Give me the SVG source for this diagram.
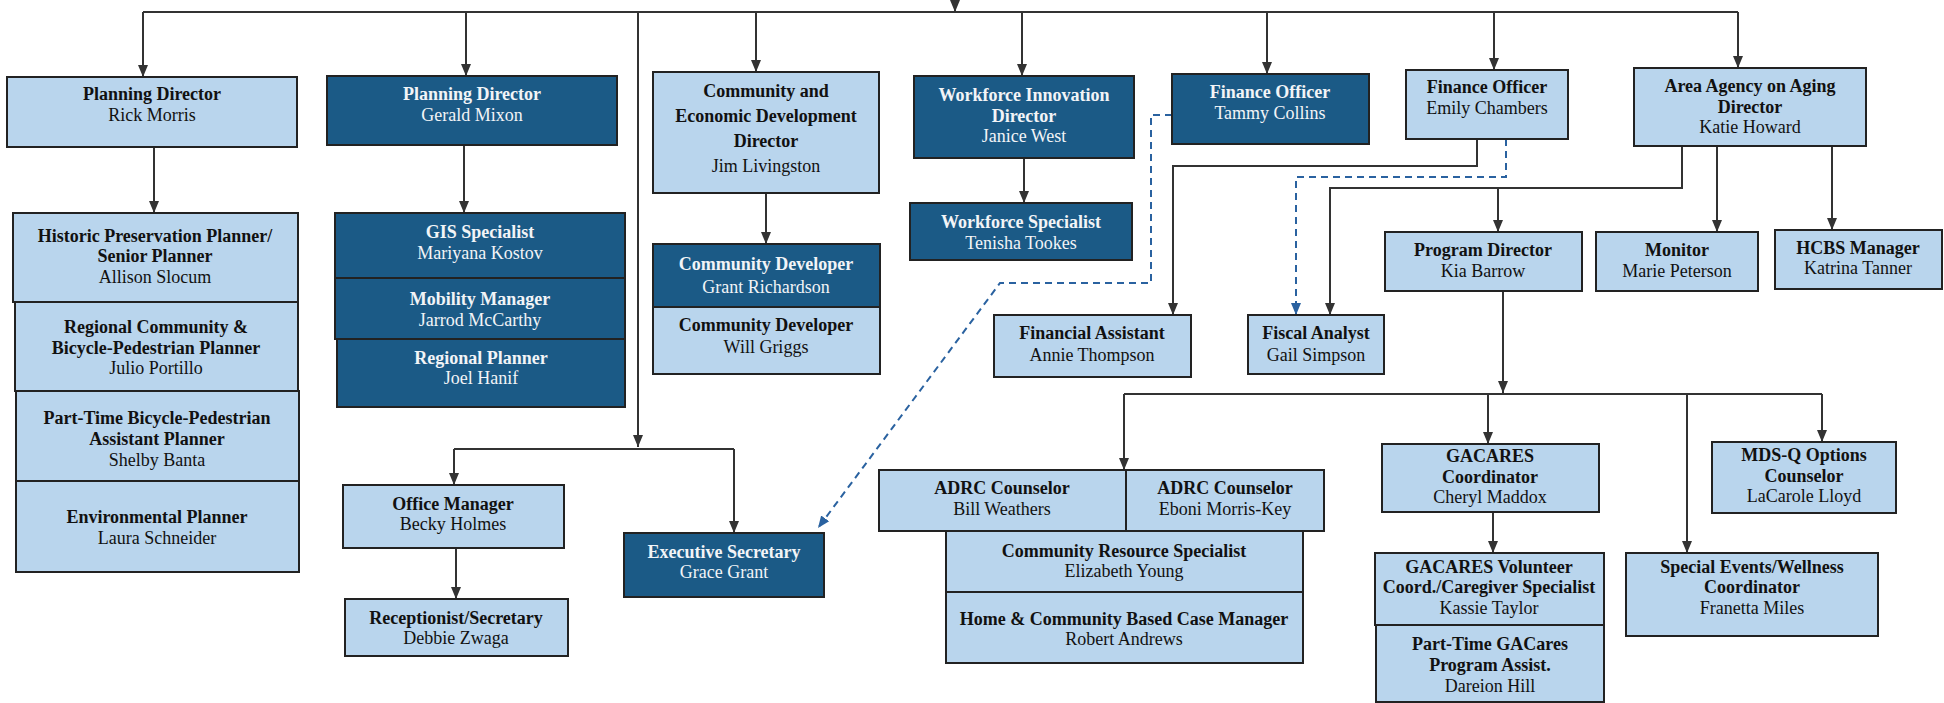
<svg xmlns="http://www.w3.org/2000/svg" width="1944" height="703" viewBox="0 0 1944 703">
<style>
.l{fill:#b9d5ed;stroke:#222;stroke-width:2}
.d{fill:#1b5a86;stroke:#222;stroke-width:2}
text{font-family:"Liberation Serif","Times New Roman",serif;font-size:18px;text-anchor:middle;fill:#111}
.b{font-weight:bold}
.w text{fill:#f2f4f7}
.c{fill:none;stroke:#333;stroke-width:2}
.dash{fill:none;stroke:#2a62a0;stroke-width:2;stroke-dasharray:7 5}
</style>
<defs>
<marker id="ah" viewBox="0 0 12 12" refX="12" refY="6" markerWidth="12" markerHeight="12" markerUnits="userSpaceOnUse" orient="auto"><path d="M0,1 L12,6 L0,11 z" fill="#333"/></marker>
<marker id="bh" viewBox="0 0 12 12" refX="12" refY="6" markerWidth="12" markerHeight="12" markerUnits="userSpaceOnUse" orient="auto"><path d="M0,1 L12,6 L0,11 z" fill="#2a62a0"/></marker>
</defs>
<rect width="1944" height="703" fill="#fff"/>
<g id="connectors">
<path class="c" d="M143,12 H1738"/>
<path class="c" d="M955,0 V12" marker-end="url(#ah)"/>
<path class="c" d="M143,12 V77" marker-end="url(#ah)"/>
<path class="c" d="M466,12 V76" marker-end="url(#ah)"/>
<path class="c" d="M638,12 V447" marker-end="url(#ah)"/>
<path class="c" d="M454,449 H734"/>
<path class="c" d="M454,449 V485" marker-end="url(#ah)"/>
<path class="c" d="M734,449 V533" marker-end="url(#ah)"/>
<path class="c" d="M756,12 V72" marker-end="url(#ah)"/>
<path class="c" d="M1022,12 V76" marker-end="url(#ah)"/>
<path class="c" d="M1267,12 V74" marker-end="url(#ah)"/>
<path class="c" d="M1494,12 V70" marker-end="url(#ah)"/>
<path class="c" d="M1738,12 V68" marker-end="url(#ah)"/>
<path class="c" d="M154,147 V213" marker-end="url(#ah)"/>
<path class="c" d="M464,145 V213" marker-end="url(#ah)"/>
<path class="c" d="M456,548 V599" marker-end="url(#ah)"/>
<path class="c" d="M766,193 V244" marker-end="url(#ah)"/>
<path class="c" d="M1024,158 V203" marker-end="url(#ah)"/>
<path class="c" d="M1477,139 V166 H1173 V315" marker-end="url(#ah)"/>
<path class="c" d="M1682,146 V188 H1330 V315" marker-end="url(#ah)"/>
<path class="c" d="M1498,188 V232" marker-end="url(#ah)"/>
<path class="c" d="M1717,146 V232" marker-end="url(#ah)"/>
<path class="c" d="M1832,146 V230" marker-end="url(#ah)"/>
<path class="c" d="M1503,291 V393" marker-end="url(#ah)"/>
<path class="c" d="M1124,394 H1822"/>
<path class="c" d="M1124,394 V470" marker-end="url(#ah)"/>
<path class="c" d="M1488,394 V444" marker-end="url(#ah)"/>
<path class="c" d="M1687,394 V553" marker-end="url(#ah)"/>
<path class="c" d="M1822,394 V442" marker-end="url(#ah)"/>
<path class="c" d="M1493,512 V553" marker-end="url(#ah)"/>
<path class="dash" d="M1506,139 V177 H1296 V315" marker-end="url(#bh)"/>
<path class="dash" d="M1172,115 H1151 V283 H1000 L818,528" marker-end="url(#bh)"/>
</g>
<g id="rick"><rect class="l" x="7" y="77" width="290" height="70"/><text x="152" y="100" class="b">Planning Director</text><text x="152" y="121">Rick Morris</text></g>
<g id="gerald" class="w"><rect class="d" x="327" y="76" width="290" height="69"/><text x="472" y="100" class="b">Planning Director</text><text x="472" y="121">Gerald Mixon</text></g>
<g id="historic"><rect class="l" x="13" y="213" width="285" height="89"/><text x="155" y="242" class="b">Historic Preservation Planner/</text><text x="155" y="262" class="b">Senior Planner</text><text x="155" y="283">Allison Slocum</text></g>
<g id="regional"><rect class="l" x="15" y="302" width="283" height="89"/><text x="156" y="333" class="b">Regional Community &amp;</text><text x="156" y="354" class="b">Bicycle-Pedestrian Planner</text><text x="156" y="374">Julio Portillo</text></g>
<g id="parttime"><rect class="l" x="16" y="391" width="283" height="90"/><text x="157" y="424" class="b">Part-Time Bicycle-Pedestrian</text><text x="157" y="445" class="b">Assistant Planner</text><text x="157" y="466">Shelby Banta</text></g>
<g id="env"><rect class="l" x="16" y="481" width="283" height="91"/><text x="157" y="523" class="b">Environmental Planner</text><text x="157" y="544">Laura Schneider</text></g>
<g id="gis" class="w"><rect class="d" x="335" y="213" width="290" height="65"/><text x="480" y="238" class="b">GIS Specialist</text><text x="480" y="259">Mariyana Kostov</text></g>
<g id="mobility" class="w"><rect class="d" x="335" y="278" width="290" height="61"/><text x="480" y="305" class="b">Mobility Manager</text><text x="480" y="326">Jarrod McCarthy</text></g>
<g id="joel" class="w"><rect class="d" x="337" y="339" width="288" height="68"/><text x="481" y="364" class="b">Regional Planner</text><text x="481" y="384">Joel Hanif</text></g>
<g id="office"><rect class="l" x="343" y="485" width="221" height="63"/><text x="453" y="510" class="b">Office Manager</text><text x="453" y="530">Becky Holmes</text></g>
<g id="receptionist"><rect class="l" x="345" y="599" width="223" height="57"/><text x="456" y="624" class="b">Receptionist/Secretary</text><text x="456" y="644">Debbie Zwaga</text></g>
<g id="execsec" class="w"><rect class="d" x="624" y="533" width="200" height="64"/><text x="724" y="558" class="b">Executive Secretary</text><text x="724" y="578">Grace Grant</text></g>
<g id="ced"><rect class="l" x="653" y="72" width="226" height="121"/><text x="766" y="97" class="b">Community and</text><text x="766" y="122" class="b">Economic Development</text><text x="766" y="147" class="b">Director</text><text x="766" y="172">Jim Livingston</text></g>
<g id="grant" class="w"><rect class="d" x="653" y="244" width="227" height="63"/><text x="766" y="270" class="b">Community Developer</text><text x="766" y="293">Grant Richardson</text></g>
<g id="will"><rect class="l" x="653" y="307" width="227" height="67"/><text x="766" y="331" class="b">Community Developer</text><text x="766" y="353">Will Griggs</text></g>
<g id="wfdir" class="w"><rect class="d" x="914" y="76" width="220" height="82"/><text x="1024" y="101" class="b">Workforce Innovation</text><text x="1024" y="122" class="b">Director</text><text x="1024" y="142">Janice West</text></g>
<g id="wfspec" class="w"><rect class="d" x="910" y="203" width="222" height="57"/><text x="1021" y="228" class="b">Workforce Specialist</text><text x="1021" y="249">Tenisha Tookes</text></g>
<g id="tammy" class="w"><rect class="d" x="1172" y="74" width="197" height="70"/><text x="1270" y="98" class="b">Finance Officer</text><text x="1270" y="119">Tammy Collins</text></g>
<g id="emily"><rect class="l" x="1406" y="70" width="162" height="69"/><text x="1487" y="93" class="b">Finance Officer</text><text x="1487" y="114">Emily Chambers</text></g>
<g id="aaa"><rect class="l" x="1634" y="68" width="232" height="78"/><text x="1750" y="92" class="b">Area Agency on Aging</text><text x="1750" y="113" class="b">Director</text><text x="1750" y="133">Katie Howard</text></g>
<g id="finasst"><rect class="l" x="994" y="315" width="197" height="62"/><text x="1092" y="339" class="b">Financial Assistant</text><text x="1092" y="361">Annie Thompson</text></g>
<g id="fiscal"><rect class="l" x="1248" y="315" width="136" height="59"/><text x="1316" y="339" class="b">Fiscal Analyst</text><text x="1316" y="361">Gail Simpson</text></g>
<g id="progdir"><rect class="l" x="1385" y="232" width="197" height="59"/><text x="1483" y="256" class="b">Program Director</text><text x="1483" y="277">Kia Barrow</text></g>
<g id="monitor"><rect class="l" x="1596" y="232" width="162" height="59"/><text x="1677" y="256" class="b">Monitor</text><text x="1677" y="277">Marie Peterson</text></g>
<g id="hcbs"><rect class="l" x="1775" y="230" width="167" height="59"/><text x="1858" y="254" class="b">HCBS Manager</text><text x="1858" y="274">Katrina Tanner</text></g>
<g id="adrc1"><rect class="l" x="879" y="470" width="247" height="61"/><text x="1002" y="494" class="b">ADRC Counselor</text><text x="1002" y="515">Bill Weathers</text></g>
<g id="adrc2"><rect class="l" x="1126" y="470" width="198" height="61"/><text x="1225" y="494" class="b">ADRC Counselor</text><text x="1225" y="515">Eboni Morris-Key</text></g>
<g id="commres"><rect class="l" x="946" y="531" width="357" height="61"/><text x="1124" y="557" class="b">Community Resource Specialist</text><text x="1124" y="577">Elizabeth Young</text></g>
<g id="homecase"><rect class="l" x="946" y="592" width="357" height="71"/><text x="1124" y="625" class="b">Home &amp; Community Based Case Manager</text><text x="1124" y="645">Robert Andrews</text></g>
<g id="gacoord"><rect class="l" x="1382" y="444" width="217" height="68"/><text x="1490" y="462" class="b">GACARES</text><text x="1490" y="483" class="b">Coordinator</text><text x="1490" y="503">Cheryl Maddox</text></g>
<g id="gavol"><rect class="l" x="1375" y="553" width="229" height="72"/><text x="1489" y="573" class="b">GACARES Volunteer</text><text x="1489" y="593" class="b">Coord./Caregiver Specialist</text><text x="1489" y="614">Kassie Taylor</text></g>
<g id="gapt"><rect class="l" x="1376" y="625" width="228" height="77"/><text x="1490" y="650" class="b">Part-Time GACares</text><text x="1490" y="671" class="b">Program Assist.</text><text x="1490" y="692">Dareion Hill</text></g>
<g id="special"><rect class="l" x="1626" y="553" width="252" height="83"/><text x="1752" y="573" class="b">Special Events/Wellness</text><text x="1752" y="593" class="b">Coordinator</text><text x="1752" y="614">Franetta Miles</text></g>
<g id="mdsq"><rect class="l" x="1712" y="442" width="184" height="71"/><text x="1804" y="461" class="b">MDS-Q Options</text><text x="1804" y="482" class="b">Counselor</text><text x="1804" y="502">LaCarole Lloyd</text></g>
</svg>
